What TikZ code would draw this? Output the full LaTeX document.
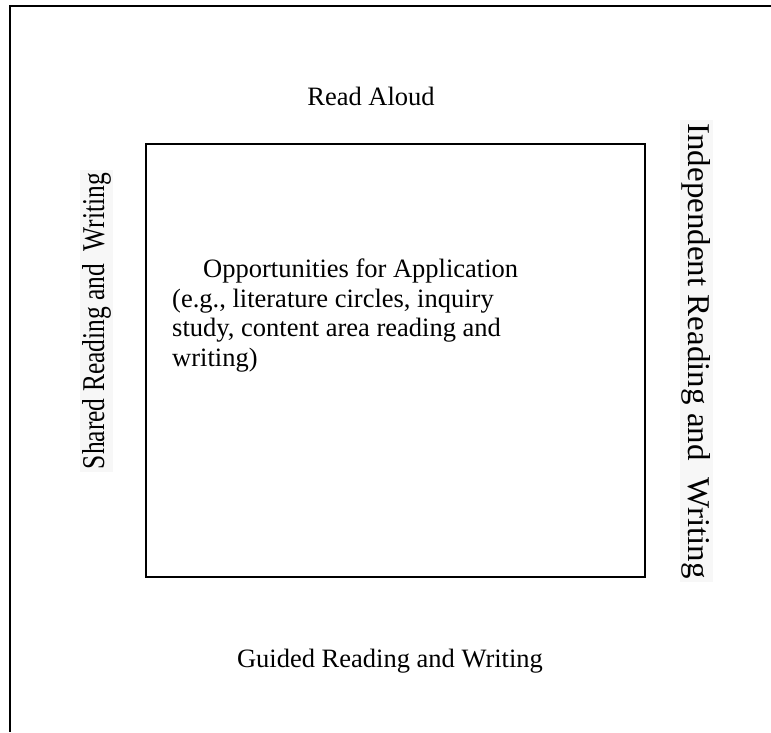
\documentclass[tikz,border=0pt]{standalone}
\usepackage{fontspec}
\usepackage{graphicx}
\setmainfont{Liberation Serif}
\tikzset{
  frame/.style={line width=2.5pt, draw=black},
  mainlabel/.style={font=\fontsize{26.5}{29.5}\selectfont, inner sep=0pt},
  sidebox/.style={fill=black!3, inner sep=0pt, minimum height=33pt, font=\fontsize{26}{28}\selectfont}
}
\begin{document}
\begin{tikzpicture}[x=1pt,y=-1pt]
\useasboundingbox (0,0) rectangle (771,732);
% outer frame (top and left sides only)
\coordinate (tl) at (10,6);
\coordinate (tr) at (771,6);
\coordinate (bl) at (10,732);
\draw[frame] (tr) -- (tl) -- (bl);
% inner box
\node[frame, minimum width=499pt, minimum height=433pt, inner sep=0pt] (inner) at (395.5,360.5) {};
% top label
\node[mainlabel] (read) at (371,96) {Read Aloud};
% bottom label
\node[mainlabel] (guided) at (390,661) {Guided Reading and Writing};
% side labels
\node[sidebox, rotate=90, minimum width=302pt] (shared) at (96.5,321) {\resizebox{296pt}{22pt}{Shared Reading and\ \ Writing}};
\node[sidebox, rotate=-90, minimum width=462pt] (indep) at (696.5,351) {\resizebox{455pt}{22pt}{Independent Reading and\ \ Writing}};
% main text
\node[mainlabel, anchor=north west, align=left] (opp) at (172,259)
  {\hspace*{31pt}Opportunities for Application\\(e.g., literature circles, inquiry\\study, content area reading and\\writing)};
\end{tikzpicture}
\end{document}
